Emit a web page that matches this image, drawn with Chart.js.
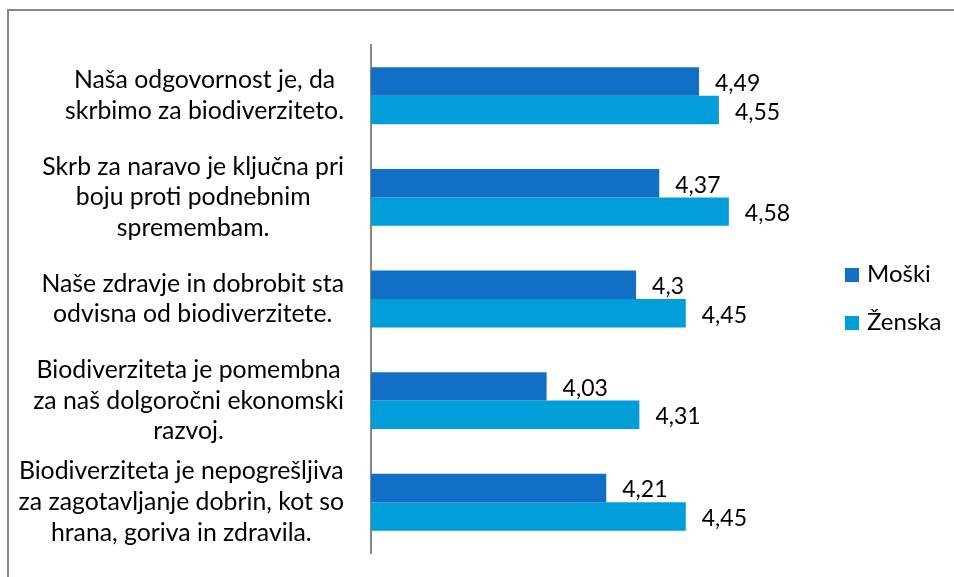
<!DOCTYPE html>
<html>
<head>
    <title>Biodiverziteta</title>
    <script src="https://cdn.jsdelivr.net/npm/chart.js"></script>
    <style>
        html, body { margin: 0; padding: 0; background: #fff; overflow: hidden; }
        #wrap { position: relative; width: 954px; height: 577px; }
        #frame {
            position: absolute; left: 7px; top: 9px; width: 1200px; height: 900px;
            border-left: 2px solid #878787; border-top: 2px solid #878787;
            pointer-events: none;
        }
    </style>
</head>
<body>
    <div id="wrap">
        <canvas id="myChart" width="954" height="577"></canvas>
        <div id="frame"></div>
    </div>

    <script>
        // Categories (each label split into its lines)
        let categories = [
            ['Naša odgovornost je, da', 'skrbimo za biodiverziteto.'],
            ['Skrb za naravo je ključna pri', 'boju proti podnebnim', 'spremembam.'],
            ['Naše zdravje in dobrobit sta', 'odvisna od biodiverzitete.'],
            ['Biodiverziteta je pomembna', 'za naš dolgoročni ekonomski', 'razvoj.'],
            ['Biodiverziteta je nepogrešljiva', 'za zagotavljanje dobrin, kot so', 'hrana, goriva in zdravila.']
        ];
        let moski = [4.49, 4.37, 4.3, 4.03, 4.21];
        let zenska = [4.55, 4.58, 4.45, 4.31, 4.45];
        let seriesNames = ['Moški', 'Ženska'];
        let axisMin = 3.5;
        let axisMax = 5;

        const LABEL_FONT = '24.8px Lato';
        const VALUE_FONT = '23px Lato';
        const LEGEND_FONT = '24px Lato';

        function fmt(v) {
            return String(v).replace('.', ',');
        }

        // Labels, value labels and legend drawn on the canvas
        const decorations = {
            id: 'decorations',
            afterDraw(chart) {
                const ctx = chart.ctx;
                const area = chart.chartArea;
                const yScale = chart.scales.y;
                ctx.save();
                ctx.fillStyle = '#000';

                // category labels: block right aligned, lines centred
                ctx.font = LABEL_FONT;
                categories.forEach((lines, i) => {
                    const cy = yScale.getPixelForTick(i);
                    const widest = Math.max(...lines.map(l => ctx.measureText(l).width));
                    const cx = area.left - 27 - widest / 2;
                    const lh = 30.7;
                    const top = cy - (lines.length - 1) * lh / 2;
                    ctx.textAlign = 'center';
                    ctx.textBaseline = 'middle';
                    lines.forEach((l, j) => ctx.fillText(l, cx, top + j * lh));
                });

                // value labels
                ctx.font = VALUE_FONT;
                ctx.textAlign = 'left';
                ctx.textBaseline = 'alphabetic';
                chart.data.datasets.forEach((ds, di) => {
                    chart.getDatasetMeta(di).data.forEach((bar, i) => {
                        ctx.fillText(fmt(ds.data[i]), bar.x + 16, bar.y + 9.5);
                    });
                });

                // legend
                ctx.font = LEGEND_FONT;
                const legendTops = [268, 316];
                chart.data.datasets.forEach((ds, di) => {
                    ctx.fillStyle = ds.backgroundColor;
                    ctx.fillRect(845, legendTops[di], 14, 14);
                    ctx.fillStyle = '#000';
                    ctx.fillText(ds.label, 867, legendTops[di] + 13.5);
                });
                ctx.restore();
            }
        };

        let ctx = document.getElementById('myChart').getContext('2d');
        window.myChart = new Chart(ctx, {
            type: 'bar',
            data: {
                labels: categories,
                datasets: [{
                    label: seriesNames[0],
                    data: moski,
                    backgroundColor: '#1170C5',
                    categoryPercentage: 0.56,
                    barPercentage: 1.0
                }, {
                    label: seriesNames[1],
                    data: zenska,
                    backgroundColor: '#019ED9',
                    categoryPercentage: 0.56,
                    barPercentage: 1.0
                }]
            },
            options: {
                indexAxis: 'y',
                responsive: false,
                animation: false,
                layout: { padding: { top: 45, bottom: 24, left: 0, right: 86 } },
                plugins: {
                    legend: { display: false },
                    tooltip: { enabled: false }
                },
                scales: {
                    x: {
                        display: false,
                        min: axisMin,
                        max: axisMax
                    },
                    y: {
                        grid: { display: false, drawTicks: false },
                        border: { display: true, color: '#878787', width: 2 },
                        ticks: { display: false },
                        afterFit: s => { s.width = 371; }
                    }
                }
            },
            plugins: [decorations]
        });
    </script>
</body>
</html>
